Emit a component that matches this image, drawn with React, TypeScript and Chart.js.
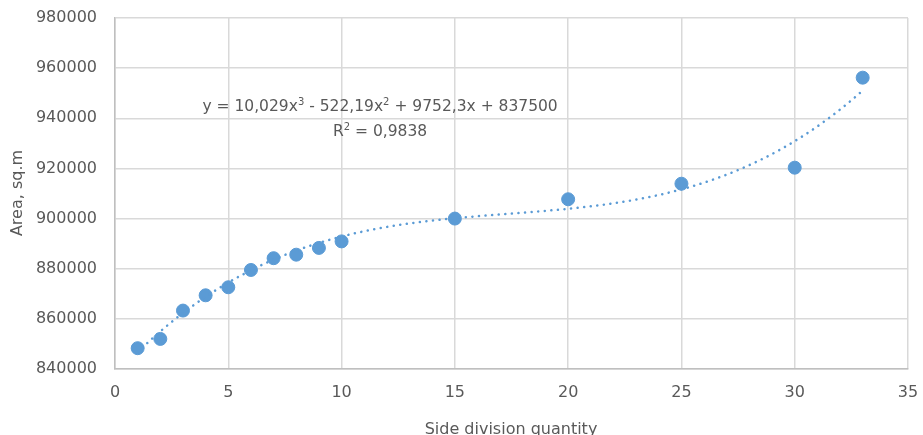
import { useEffect, useRef } from 'react';
import { Chart, registerables } from 'chart.js';

Chart.register(...registerables);

const divisionValues = [1, 2, 3, 4, 5, 6, 7, 8, 9, 10, 15, 20, 25, 30, 33];
const areaValues = [848300, 852000, 863300, 869400, 872600, 879500, 884200, 885600, 888300, 890900, 900000, 907700, 913900, 920300, 956200];
// trendline coefficients shown on the chart: a3, a2, a1, a0
const trendCoefficients = [10.029, -522.19, 9752.3, 837500];
const trendRange = [1, 33];
const xTicks = [0, 35, 5];
const yTicks = [840000, 980000, 20000];

const FONT = '"DejaVu Sans", sans-serif';
const TEXT = '#595959';
const BLUE = '#5b9bd5';

function trendPoints() {
  const pts: { x: number; y: number }[] = [];
  const [a3, a2, a1, a0] = trendCoefficients;
  for (let x = trendRange[0]; x <= trendRange[1] + 1e-9; x += 0.25) {
    pts.push({ x, y: a3 * x * x * x + a2 * x * x + a1 * x + a0 });
  }
  return pts;
}

const overlayPlugin = {
  id: 'overlay',
  afterDraw(chart: any) {
    const ctx = chart.ctx;
    const area = chart.chartArea;
    ctx.save();
    ctx.fillStyle = TEXT;
    ctx.textBaseline = 'middle';
    // y title
    ctx.save();
    ctx.translate(18, 193);
    ctx.rotate(-Math.PI / 2);
    ctx.textAlign = 'center';
    ctx.font = `16px ${FONT}`;
    ctx.fillText('Area, sq.m', 0, 0);
    ctx.restore();
    // x title
    ctx.textAlign = 'center';
    ctx.font = `16px ${FONT}`;
    ctx.fillText('Side division quantity', 511, 430);

    // equation
    const xs = chart.scales.x;
    const ys = chart.scales.y;
    const cx = xs.getPixelForValue(11.7);
    const cy1 = ys.getPixelForValue(944500);
    const cy2 = ys.getPixelForValue(934500);
    const parts: [string, boolean][] = [
      ['y = 10,029x', false],
      ['3', true],
      [' - 522,19x', false],
      ['2', true],
      [' + 9752,3x + 837500', false],
    ];
    const mainFont = `15.5px ${FONT}`;
    const supFont = `10px ${FONT}`;
    let total = 0;
    for (const [t, sup] of parts) {
      ctx.font = sup ? supFont : mainFont;
      total += ctx.measureText(t).width;
    }
    let x = cx - total / 2;
    ctx.textAlign = 'left';
    for (const [t, sup] of parts) {
      ctx.font = sup ? supFont : mainFont;
      ctx.fillText(t, x, sup ? cy1 - 5 : cy1);
      x += ctx.measureText(t).width;
    }
    const parts2: [string, boolean][] = [
      ['R', false],
      ['2', true],
      [' = 0,9838', false],
    ];
    total = 0;
    for (const [t, sup] of parts2) {
      ctx.font = sup ? supFont : mainFont;
      total += ctx.measureText(t).width;
    }
    x = cx - total / 2;
    for (const [t, sup] of parts2) {
      ctx.font = sup ? supFont : mainFont;
      ctx.fillText(t, x, sup ? cy2 - 5 : cy2);
      x += ctx.measureText(t).width;
    }
    ctx.restore();
  },
};

export default function App() {
  const ref = useRef<HTMLCanvasElement | null>(null);
  useEffect(() => {
    if (!ref.current) return;
    const points = divisionValues.map((x, i) => ({ x, y: areaValues[i] }));
    const chart = new Chart(ref.current, {
      type: 'scatter',
      data: {
        datasets: [
          {
            label: 'Trend',
            type: 'line',
            data: trendPoints(),
            borderColor: BLUE,
            borderWidth: 2.5,
            borderDash: [0.1, 6.5],
            borderCapStyle: 'round',
            pointRadius: 0,
            fill: false,
            tension: 0,
            order: 0,
          } as any,
          {
            label: 'Area',
            data: points,
            backgroundColor: BLUE,
            borderColor: BLUE,
            pointRadius: 6.5,
            pointHoverRadius: 6.5,
            order: 1,
          },
        ],
      },
      options: {
        animation: false,
        responsive: false,
        devicePixelRatio: 1,
        layout: { padding: { top: 18, right: 15, left: 0, bottom: 0 } },
        plugins: { legend: { display: false }, tooltip: { enabled: false } },
        scales: {
          x: {
            type: 'linear',
            min: xTicks[0],
            max: xTicks[1],
            ticks: { stepSize: xTicks[2], color: TEXT, font: { family: FONT, size: 16 }, padding: 14 },
            grid: { color: '#d9d9d9', lineWidth: 1.5, drawTicks: false },
            border: { color: '#bfbfbf', width: 1.5 },
            afterFit: (s: any) => { s.height = 66; s.paddingLeft = 0; s.paddingRight = 0; },
          },
          y: {
            type: 'linear',
            min: yTicks[0],
            max: yTicks[1],
            ticks: {
              stepSize: yTicks[2],
              color: TEXT,
              font: { family: FONT, size: 16 },
              padding: 18,
              callback: (v: any) => String(v),
            },
            grid: { color: '#d9d9d9', lineWidth: 1.5, drawTicks: false },
            border: { color: '#bfbfbf', width: 1.5 },
            afterFit: (s: any) => { s.width = 115; s.paddingTop = 0; s.paddingBottom = 0; },
          },
        },
      },
      plugins: [overlayPlugin],
    });
    return () => chart.destroy();
  }, []);
  return (
    <div style={{ position: 'absolute', left: 0, top: 0, width: 923, height: 435, background: '#fff' }}>
      <canvas ref={ref} width={923} height={435} />
    </div>
  );
}
